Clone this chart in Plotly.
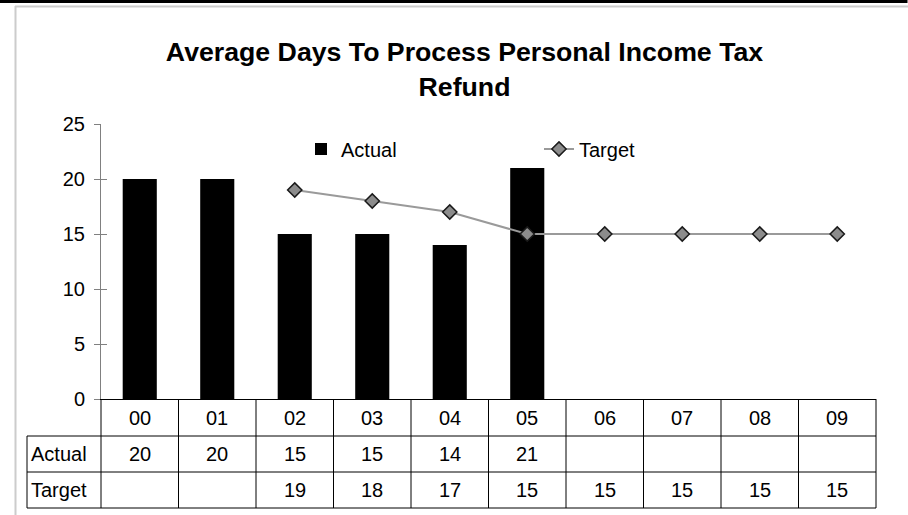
import plotly.graph_objects as go

categories = ["00", "01", "02", "03", "04", "05", "06", "07", "08", "09"]
actual = [20, 20, 15, 15, 14, 21, None, None, None, None]
target = [None, None, 19, 18, 17, 15, 15, 15, 15, 15]
y_ticks = [0, 5, 10, 15, 20, 25]

W, H = 908, 515
L, R, T, B = 101, 32, 124, 116
PW, PH = W - L - R, H - T - B

def px_x(px):
    return (px - L) / PW

def px_y(py):
    return (H - B - py) / PH

FONT = "Arial, Liberation Sans, sans-serif"
TXT = dict(size=20, color="black", family=FONT)

fig = go.Figure()
fig.add_trace(go.Bar(
    x=categories, y=actual, name="Actual",
    marker=dict(color="black", line=dict(width=0)),
))
fig.add_trace(go.Scatter(
    x=categories, y=target, name="Target", mode="lines+markers",
    line=dict(color="#9a9a9a", width=2),
    marker=dict(symbol="diamond", size=11, color="#8c8c8c",
                line=dict(color="#1a1a1a", width=1.5)),
))
# overlay axis for the inside half of the crossing tick marks
fig.add_trace(go.Scatter(x=[categories[0]], y=[None], yaxis="y2", showlegend=False,
                         hoverinfo="skip"))

shapes = []
annotations = []
n = len(categories)
row_lines = [436, 472, 508]
line_col = "#000000"
for i in range(n + 1):
    xp = i / n
    shapes.append(dict(type="line", xref="paper", yref="paper", x0=xp, x1=xp,
                       y0=0, y1=px_y(508), line=dict(color=line_col, width=1)))
for py in row_lines:
    shapes.append(dict(type="line", xref="paper", yref="paper", x0=px_x(27), x1=1,
                       y0=px_y(py), y1=px_y(py), line=dict(color=line_col, width=1)))
shapes.append(dict(type="line", xref="paper", yref="paper", x0=px_x(27), x1=px_x(27),
                   y0=px_y(436), y1=px_y(508), line=dict(color=line_col, width=1)))

for i, c in enumerate(categories):
    xc = (i + 0.5) / n
    annotations.append(dict(x=xc, y=px_y(417.5), xref="paper", yref="paper", text=c,
                            xanchor="center", yanchor="middle", showarrow=False, font=TXT))
    if actual[i] is not None:
        annotations.append(dict(x=xc, y=px_y(454), xref="paper", yref="paper",
                                text=str(actual[i]), xanchor="center", yanchor="middle",
                                showarrow=False, font=TXT))
    if target[i] is not None:
        annotations.append(dict(x=xc, y=px_y(490), xref="paper", yref="paper",
                                text=str(target[i]), xanchor="center", yanchor="middle",
                                showarrow=False, font=TXT))
for label, py in (("Actual", 454), ("Target", 490)):
    annotations.append(dict(x=px_x(29), y=px_y(py), xref="paper", yref="paper", text=label,
                            xanchor="left", yanchor="middle", showarrow=False, font=TXT))

# outer frame
shapes.append(dict(type="line", xref="paper", yref="paper", x0=px_x(0), x1=px_x(907),
                   y0=px_y(1.5), y1=px_y(1.5), line=dict(color="black", width=3)))
shapes.append(dict(type="line", xref="paper", yref="paper", x0=px_x(906), x1=px_x(906),
                   y0=px_y(0), y1=px_y(3), line=dict(color="black", width=3)))
shapes.append(dict(type="line", xref="paper", yref="paper", x0=px_x(15), x1=px_x(W),
                   y0=px_y(6.5), y1=px_y(6.5), line=dict(color="#cccccc", width=2)))
shapes.append(dict(type="line", xref="paper", yref="paper", x0=px_x(15.5), x1=px_x(15.5),
                   y0=px_y(6), y1=px_y(H), line=dict(color="#cccccc", width=2)))

fig.update_layout(
    width=W, height=H,
    margin=dict(l=L, r=R, t=T, b=B, pad=0),
    paper_bgcolor="white", plot_bgcolor="white",
    font=dict(family=FONT, size=20, color="black"),
    title=dict(text="<b>Average Days To Process Personal Income Tax<br>Refund</b>",
               x=464.5 / W, xanchor="center", y=1 - 61 / H, yanchor="top",
               font=dict(size=26.7, family=FONT, color="black")),
    bargap=0.56,
    showlegend=True,
    legend=dict(orientation="h", x=px_x(301), y=px_y(149), xanchor="left", yanchor="middle",
                entrywidth=193, entrywidthmode="pixels", bgcolor="rgba(0,0,0,0)",
                font=TXT),
    xaxis=dict(type="category", range=[-0.5, n - 0.5], showticklabels=False, ticks="",
               showline=True, linecolor="black", linewidth=1, showgrid=False, zeroline=False,
               fixedrange=True),
    yaxis=dict(range=[0, 25], tickvals=y_ticks, ticks="outside", ticklen=6,
               tickcolor="#808080", tickwidth=1, showline=True, linecolor="#808080",
               linewidth=1, showgrid=False, zeroline=False, ticklabelstandoff=5,
               tickfont=TXT),
    yaxis2=dict(range=[0, 25], tickvals=y_ticks, ticks="inside", ticklen=6,
                tickcolor="#808080", tickwidth=1, overlaying="y", side="left",
                showticklabels=False, showline=False, showgrid=False, zeroline=False),
    shapes=shapes,
    annotations=annotations,
)

fig.write_html("out.html", config={"displayModeBar": False},
               post_script="document.body.style.margin='0';document.body.style.overflow='hidden';")
